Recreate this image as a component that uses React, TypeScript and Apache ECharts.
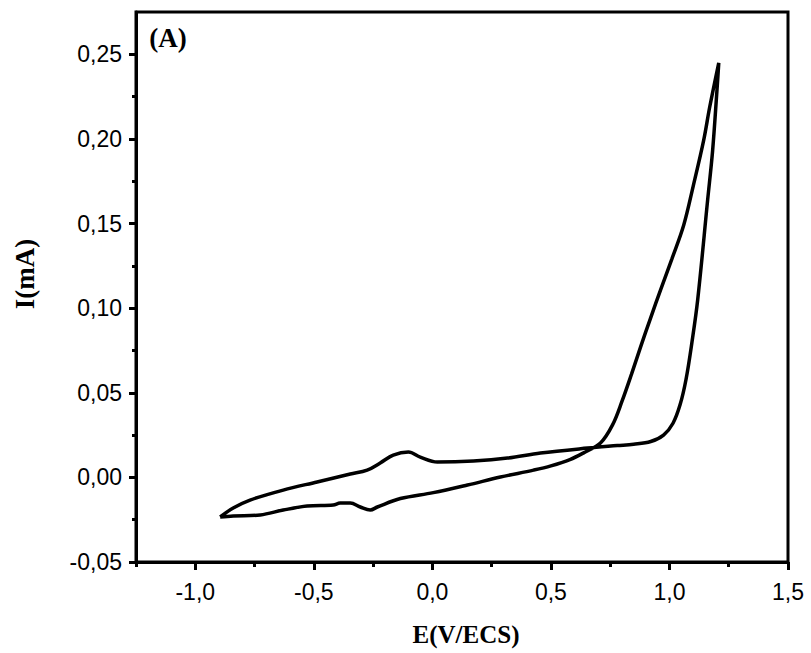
import React, { useEffect, useRef } from "react";
import * as echarts from "echarts";

const potentialE = [
  -0.895, -0.84, -0.769, -0.629, -0.486, -0.346, -0.275, -0.22, -0.165, -0.101, -0.051, 0.021, 0.173, 0.317, 0.456,
  0.655, 0.78, 0.849, 0.921, 0.975, 1.015, 1.045, 1.07, 1.095, 1.119, 1.161, 1.182, 1.2, 1.208,
  1.17, 1.144, 1.1, 1.06, 1.01, 0.963, 0.92, 0.878, 0.84, 0.8, 0.76, 0.709, 0.638, 0.58, 0.5, 0.427, 0.287, 0.148,
  0.004, -0.135, -0.232, -0.262, -0.304, -0.346, -0.389, -0.418, -0.528, -0.629, -0.726, -0.84, -0.895,
];
const currentI = [
  -0.0234, -0.0181, -0.0134, -0.0075, -0.0027, 0.002, 0.0043, 0.0085, 0.0132, 0.015, 0.012, 0.0091, 0.0097, 0.0114,
  0.0144, 0.0173, 0.0188, 0.0196, 0.0212, 0.025, 0.032, 0.043, 0.058, 0.08, 0.1048, 0.1638, 0.193, 0.228, 0.245,
  0.219, 0.199, 0.172, 0.149, 0.129, 0.111, 0.094, 0.077, 0.061, 0.045, 0.031, 0.0203, 0.0145, 0.0105, 0.0068, 0.0043,
  0.0002, -0.0045, -0.009, -0.0125, -0.0175, -0.0193, -0.0175, -0.0152, -0.0152, -0.0163, -0.0169, -0.0193, -0.0222,
  -0.0228, -0.0234,
];
const xMajorTicks = [-1.0, -0.5, 0.0, 0.5, 1.0, 1.5];
const xMinorTicks = [-1.25, -0.75, -0.25, 0.25, 0.75, 1.25];
const yMajorTicks = [-0.05, 0.0, 0.05, 0.1, 0.15, 0.2, 0.25];
const yMinorTicks = [-0.025, 0.025, 0.075, 0.125, 0.175, 0.225];

const X_MIN = -1.25;
const X_MAX = 1.5;
const Y_MIN = -0.05;
const Y_MAX = 0.275;

export default function App() {
  const ref = useRef<HTMLDivElement>(null);
  useEffect(() => {
    if (!ref.current) return;
    const chart = echarts.init(ref.current, undefined, { renderer: "svg" });
    const labelFont = { fontFamily: "Liberation Sans", fontSize: 23, color: "#000" };
    const nameFont = { fontFamily: "Liberation Serif", fontWeight: "bold" as const, fontSize: 26, fill: "#000" };
    chart.setOption({
      animation: false,
      backgroundColor: "#fff",
      grid: {
        left: 136,
        right: 23,
        top: 12,
        bottom: 91,
        show: true,
        borderColor: "#000",
        borderWidth: 3,
        backgroundColor: "transparent",
      },
      xAxis: [
        {
          type: "value",
          min: X_MIN,
          max: X_MAX,
          position: "bottom",
          splitLine: { show: false },
          axisLine: { show: true, onZero: false, lineStyle: { color: "#000", width: 3 } },
          axisTick: { show: true, customValues: xMajorTicks, length: 8, lineStyle: { color: "#000", width: 3 } },
          axisLabel: {
            ...labelFont,
            customValues: xMajorTicks,
            margin: 18,
            formatter: (v: number) => v.toFixed(1).replace(".", ","),
          },
        },
        {
          type: "value",
          min: X_MIN,
          max: X_MAX,
          position: "bottom",
          splitLine: { show: false },
          axisLine: { show: false, onZero: false },
          axisTick: { show: true, customValues: xMinorTicks, length: 5, lineStyle: { color: "#000", width: 3 } },
          axisLabel: { show: false },
        },
      ],
      yAxis: [
        {
          type: "value",
          min: Y_MIN,
          max: Y_MAX,
          position: "left",
          splitLine: { show: false },
          axisLine: { show: true, onZero: false, lineStyle: { color: "#000", width: 3 } },
          axisTick: { show: true, customValues: yMajorTicks, length: 7, lineStyle: { color: "#000", width: 3 } },
          axisLabel: {
            ...labelFont,
            customValues: yMajorTicks,
            margin: 14,
            formatter: (v: number) => v.toFixed(2).replace(".", ","),
          },
        },
        {
          type: "value",
          min: Y_MIN,
          max: Y_MAX,
          position: "left",
          splitLine: { show: false },
          axisLine: { show: false, onZero: false },
          axisTick: { show: true, customValues: yMinorTicks, length: 4, lineStyle: { color: "#000", width: 3 } },
          axisLabel: { show: false },
        },
      ],
      series: [
        {
          type: "line",
          xAxisIndex: 0,
          yAxisIndex: 0,
          data: potentialE.map((e, i) => [e, currentI[i]]),
          showSymbol: false,
          symbol: "none",
          smooth: 0.35,
          lineStyle: { color: "#000", width: 3.5 },
        },
      ],
      graphic: [
        {
          type: "text",
          x: 168,
          y: 38,
          style: { text: "(A)", ...nameFont, fontSize: 27, align: "center", verticalAlign: "middle" },
        },
        {
          type: "text",
          x: 466,
          y: 634,
          style: { text: "E(V/ECS)", ...nameFont, fontSize: 25, align: "center", verticalAlign: "middle" },
        },
        {
          type: "text",
          x: 25,
          y: 274,
          rotation: Math.PI / 2,
          style: { text: "I(mA)", ...nameFont, fontSize: 27, align: "center", verticalAlign: "middle" },
        },
      ],
    });
    return () => chart.dispose();
  }, []);
  return <div ref={ref} style={{ width: 811, height: 653, position: "absolute", left: 0, top: 0 }} />;
}
